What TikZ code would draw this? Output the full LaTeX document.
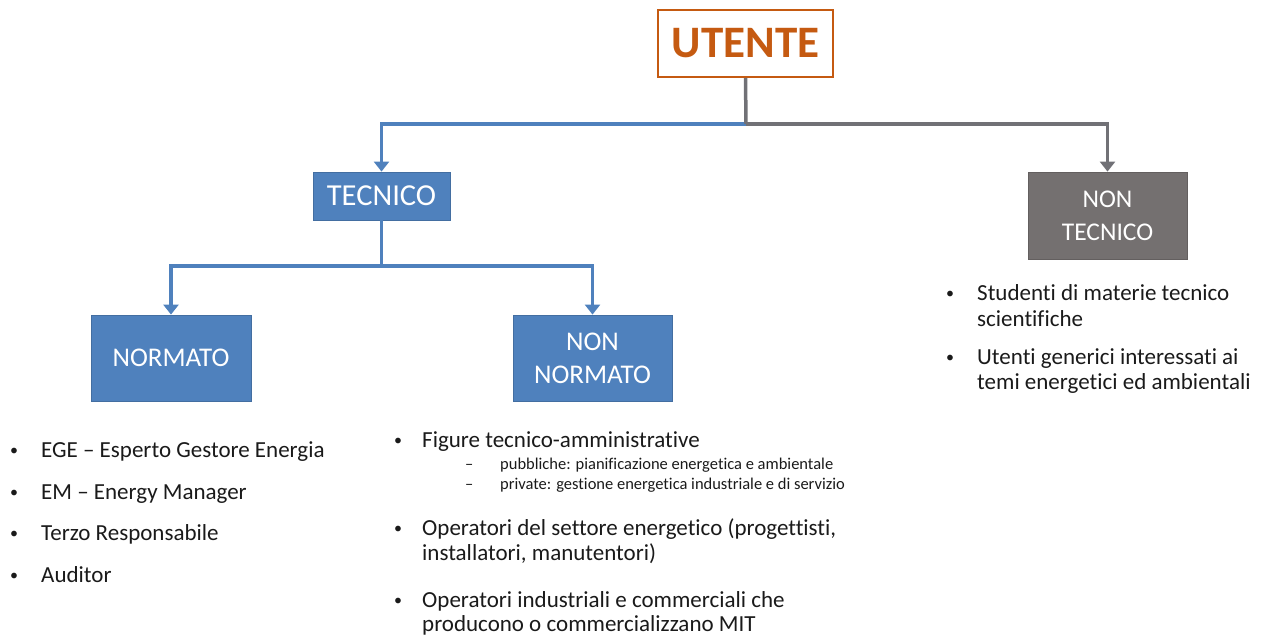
\documentclass[tikz,border=0pt]{standalone}
\usepackage{fontspec}
\setmainfont{Carlito}[Ligatures=NoCommon]
\usepackage{tikz}
\usetikzlibrary{arrows.meta}
\definecolor{orangeut}{HTML}{C55A11}
\definecolor{boxblue}{HTML}{4F81BD}
\definecolor{boxgray}{HTML}{747070}
\definecolor{linegray}{HTML}{717176}
\definecolor{txt}{HTML}{1A1A1A}

\begin{document}
\begin{tikzpicture}[x=1pt,y=-1pt,
	utentebox/.style={draw=orangeut,line width=2pt,fill=white,text=orangeut,font=\fontsize{45}{50}\selectfont\bfseries,minimum width=175pt,minimum height=67pt,inner sep=0},
	bluebox/.style={draw=boxblue!85!black,line width=0.8pt,fill=boxblue,text=white,align=center,inner sep=0},
	graybox/.style={draw=boxgray!85!black,line width=0.8pt,fill=boxgray,text=white,align=center,inner sep=0},
	blueline/.style={draw=boxblue,line width=3.5pt},
	grayline/.style={draw=linegray,line width=3.5pt},
	tip/.style={-{Triangle[width=15pt,length=10pt]}},
	item/.style={anchor=base west,inner sep=0,text=txt,font=\fontsize{23}{26}\selectfont},
	dot/.style={anchor=base west,inner sep=0,text=txt,font=\fontsize{16}{18}\selectfont,yshift=2pt},
	subitem/.style={anchor=base west,inner sep=0,text=txt,font=\fontsize{16.5}{20}\selectfont}]
\useasboundingbox (0,0) rectangle (1261,640);

% boxes
\node[utentebox] (utente) at (745.5,43.5) {UTENTE};
\node[bluebox,minimum width=137pt,minimum height=48pt,font=\fontsize{30.5}{32}\selectfont] (tecnico) at (381.5,196) {TECNICO};
\node[graybox,minimum width=159pt,minimum height=87pt,font=\fontsize{25.5}{33}\selectfont] (nontecnico) at (1107.5,215.5) {NON\\TECNICO};
\node[bluebox,minimum width=160pt,minimum height=86pt,font=\fontsize{27}{33}\selectfont] (normato) at (171,358) {NORMATO};
\node[bluebox,minimum width=159pt,minimum height=86pt,font=\fontsize{27}{33}\selectfont] (nonnormato) at (592.5,358) {NON\\NORMATO};

% connectors
\coordinate (split1) at (746,124);
\coordinate (split2) at (381.5,266);
\draw[blueline,tip] (split1) -| (tecnico.north);
\draw[grayline,tip] (split1) -| (nontecnico.north);
\draw[grayline] (utente.south) -- (split1);
\draw[blueline] (tecnico.south) -- (split2);
\draw[blueline,tip] (split2) -| (normato.north);
\draw[blueline,tip] (split2) -| (nonnormato.north);

% normato list
\foreach \y/\t in {457/EGE – Esperto Gestore Energia, 499/EM – Energy Manager, 540/Terzo Responsabile, 582/Auditor}{
	\node[dot] at (10,\y) {•};
	\node[item] at (41,\y) {\t};
}

% non normato list
\node[dot] at (394,447) {•};
\node[item] at (422,447) {Figure tecnico-amministrative};
\node[subitem] at (465,469) {–};
\node[subitem] at (500,469) {pubbliche: pianificazione energetica e ambientale};
\node[subitem] at (465,489) {–};
\node[subitem] at (500,489) {private: gestione energetica industriale e di servizio};
\node[dot] at (394,535) {•};
\node[item] at (422,535) {Operatori del settore energetico (progettisti,};
\node[item] at (422,560) {installatori, manutentori)};
\node[dot] at (394,607) {•};
\node[item] at (422,607) {Operatori industriali e commerciali che};
\node[item] at (422,631) {producono o commercializzano MIT};

% non tecnico list
\node[dot] at (946,300) {•};
\node[item] at (977,300) {Studenti di materie tecnico};
\node[item] at (977,326) {scientifiche};
\node[dot] at (946,364) {•};
\node[item] at (977,364) {Utenti generici interessati ai};
\node[item] at (977,389) {temi energetici ed ambientali};
\end{tikzpicture}
\end{document}
